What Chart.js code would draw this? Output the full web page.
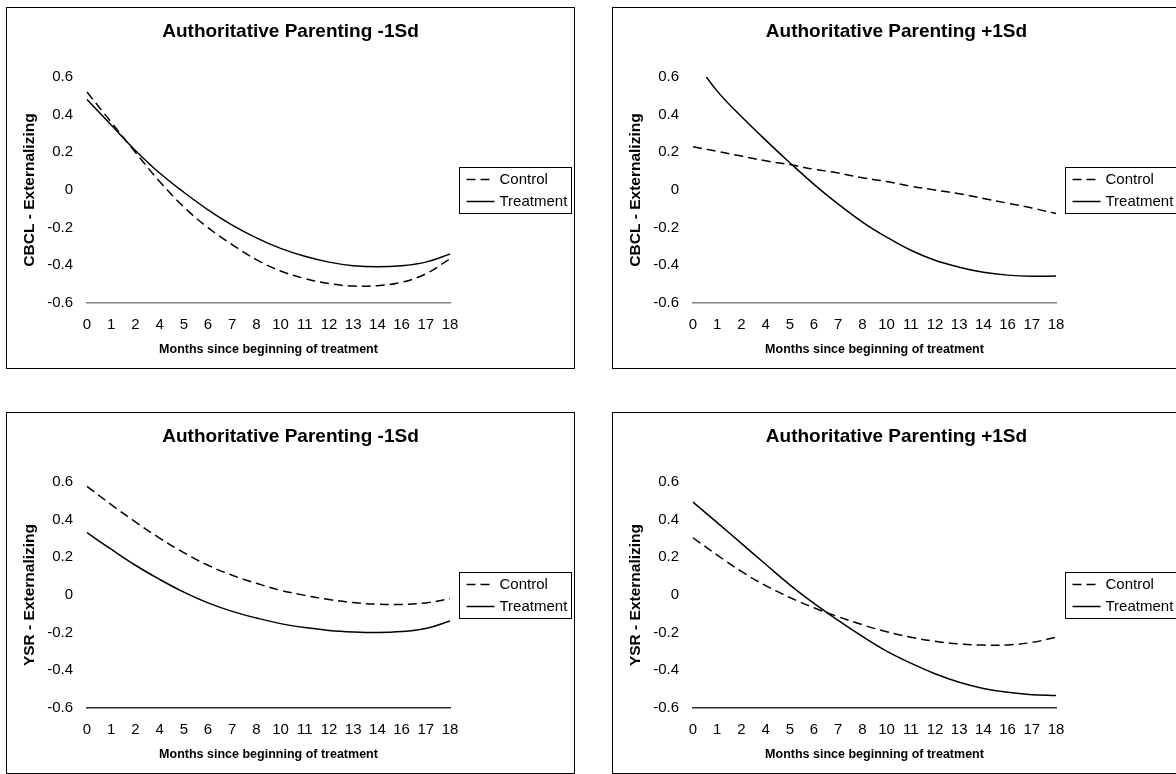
<!DOCTYPE html>
<html>
<head>
<meta charset="utf-8">
<script src="https://cdn.jsdelivr.net/npm/chart.js@4/dist/chart.umd.min.js"></script>
<style>
  html, body { margin: 0; padding: 0; background: #fff; }
  body { width: 1176px; height: 774px; overflow: hidden; position: relative; }
  .panel { position: absolute; width: 567px; height: 360px; border: 1px solid #000; background: #fff; }
  .panel canvas { display: block; }
</style>
</head>
<body>
<div class="panel" style="left:6px; top:7px;"><canvas id="c1" width="567" height="360"></canvas></div>
<div class="panel" style="left:612px; top:7px;"><canvas id="c2" width="567" height="360"></canvas></div>
<div class="panel" style="left:6px; top:412px;"><canvas id="c3" width="567" height="360"></canvas></div>
<div class="panel" style="left:612px; top:412px;"><canvas id="c4" width="567" height="360"></canvas></div>
<script>
// x categories (months are not evenly numbered: 3, 9 and 15 are missing)
const months = ['0', '1', '2', '4', '5', '6', '7', '8', '10', '11', '12', '13', '14', '16', '17', '18'];
const yMin = -0.6;
const yMax = 0.6;
const yStep = 0.2;
const seriesNames = ['Control', 'Treatment'];

// CBCL, authoritative parenting -1Sd
const cbclLowControl   = [0.52, 0.36, 0.20, 0.045, -0.09, -0.20, -0.29, -0.37, -0.43, -0.47, -0.497, -0.51, -0.508, -0.49, -0.445, -0.365];
const cbclLowTreatment = [0.48, 0.345, 0.21, 0.09, -0.012, -0.105, -0.186, -0.254, -0.31, -0.352, -0.383, -0.402, -0.408, -0.402, -0.383, -0.34];
// CBCL, authoritative parenting +1Sd
const cbclHighControl   = [0.23, 0.205, 0.18, 0.155, 0.135, 0.11, 0.09, 0.065, 0.045, 0.02, 0.0, -0.02, -0.045, -0.07, -0.095, -0.125];
const cbclHighTreatment = [0.70, 0.525, 0.39, 0.265, 0.145, 0.03, -0.075, -0.17, -0.25, -0.32, -0.373, -0.41, -0.437, -0.452, -0.458, -0.457];
// YSR, authoritative parenting -1Sd
const ysrLowControl   = [0.577, 0.48, 0.388, 0.302, 0.225, 0.158, 0.105, 0.062, 0.025, -0.002, -0.024, -0.04, -0.049, -0.05, -0.042, -0.02];
const ysrLowTreatment = [0.331, 0.243, 0.158, 0.083, 0.015, -0.042, -0.087, -0.122, -0.152, -0.173, -0.188, -0.196, -0.199, -0.194, -0.178, -0.138];
// YSR, authoritative parenting +1Sd
const ysrHighControl   = [0.304, 0.212, 0.125, 0.05, -0.013, -0.068, -0.115, -0.158, -0.195, -0.224, -0.246, -0.26, -0.266, -0.265, -0.252, -0.224];
const ysrHighTreatment = [0.493, 0.384, 0.274, 0.163, 0.054, -0.045, -0.135, -0.22, -0.298, -0.362, -0.418, -0.463, -0.496, -0.517, -0.529, -0.534];

Chart.defaults.font.family = "'Liberation Sans', Arial, sans-serif";
Chart.defaults.color = '#000';

// legend drawn as a boxed list to the right of the plot
const boxLegend = {
  id: 'boxLegend',
  afterDraw(chart) {
    const { ctx, chartArea } = chart;
    const sets = chart.data.datasets;
    const rowH = 22;
    const w = 112;
    const h = sets.length * rowH + 2;
    const x0 = Math.round(chartArea.right + 9) + 0.5;
    const y0 = Math.round((chartArea.top + chartArea.bottom) / 2 - h / 2) + 0.5;
    ctx.save();
    ctx.strokeStyle = '#000';
    ctx.lineWidth = 1;
    ctx.strokeRect(x0, y0, w, h);
    ctx.font = "15px 'Liberation Sans', Arial, sans-serif";
    ctx.textBaseline = 'middle';
    ctx.textAlign = 'left';
    sets.forEach((ds, i) => {
      const y = y0 + 1 + rowH * i + rowH / 2;
      ctx.lineWidth = 1.5;
      ctx.setLineDash(ds.borderDash || []);
      ctx.beginPath();
      ctx.moveTo(x0 + 7, y);
      ctx.lineTo(x0 + 35, y);
      ctx.stroke();
      ctx.setLineDash([]);
      ctx.fillStyle = '#000';
      ctx.fillText(ds.label, x0 + 40, y);
    });
    ctx.restore();
  }
};

function makePanel(id, title, yTitle, control, treatment, axisColor) {
  new Chart(document.getElementById(id), {
    type: 'line',
    data: {
      labels: months,
      datasets: [
        { label: seriesNames[0], data: control, borderColor: '#000', borderWidth: 1.5, borderDash: [9, 5], pointRadius: 0, tension: 0.4, fill: false },
        { label: seriesNames[1], data: treatment, borderColor: '#000', borderWidth: 1.5, pointRadius: 0, tension: 0.4, fill: false }
      ]
    },
    options: {
      responsive: false,
      animation: false,
      events: [],
      layout: { padding: 0 },
      plugins: {
        legend: { display: false },
        tooltip: { enabled: false },
        title: {
          display: true,
          text: title,
          color: '#000',
          font: { size: 19, weight: 'bold' },
          padding: { top: 12.6, bottom: 33.6 }
        }
      },
      scales: {
        x: {
          type: 'category',
          offset: false,
          grid: { display: false, drawTicks: false },
          border: { display: true, color: axisColor, width: 1.5 },
          ticks: { autoSkip: false, maxRotation: 0, padding: 13, font: { size: 15 }, color: '#000' },
          title: { display: true, text: 'Months since beginning of treatment', font: { size: 12.5, weight: 'bold' }, color: '#000', padding: { top: 0, bottom: 10.5 } },
          afterFit: s => { s.height = 65; }
        },
        y: {
          min: yMin,
          max: yMax,
          grid: { display: false, drawTicks: false },
          border: { display: false },
          ticks: {
            stepSize: yStep,
            padding: 14,
            font: { size: 15 },
            color: '#000',
            callback: v => String(Math.round(v * 10) / 10)
          },
          title: { display: true, text: yTitle, font: { size: 15.5, weight: 'bold' }, color: '#000', padding: { top: 13.7, bottom: 0 } },
          afterFit: s => { s.width = 80; }
        },
        // empty right-hand axis that keeps room for the boxed legend
        legendSpace: {
          type: 'linear',
          position: 'right',
          grid: { display: false, drawTicks: false },
          border: { display: false },
          ticks: { display: false },
          afterFit: s => { s.width = 124; }
        }
      }
    },
    plugins: [boxLegend]
  });
}

makePanel('c1', 'Authoritative Parenting -1Sd', 'CBCL - Externalizing', cbclLowControl, cbclLowTreatment, '#808080');
makePanel('c2', 'Authoritative Parenting +1Sd', 'CBCL - Externalizing', cbclHighControl, cbclHighTreatment, '#808080');
makePanel('c3', 'Authoritative Parenting -1Sd', 'YSR - Externalizing', ysrLowControl, ysrLowTreatment, '#303030');
makePanel('c4', 'Authoritative Parenting +1Sd', 'YSR - Externalizing', ysrHighControl, ysrHighTreatment, '#303030');
</script>
</body>
</html>
